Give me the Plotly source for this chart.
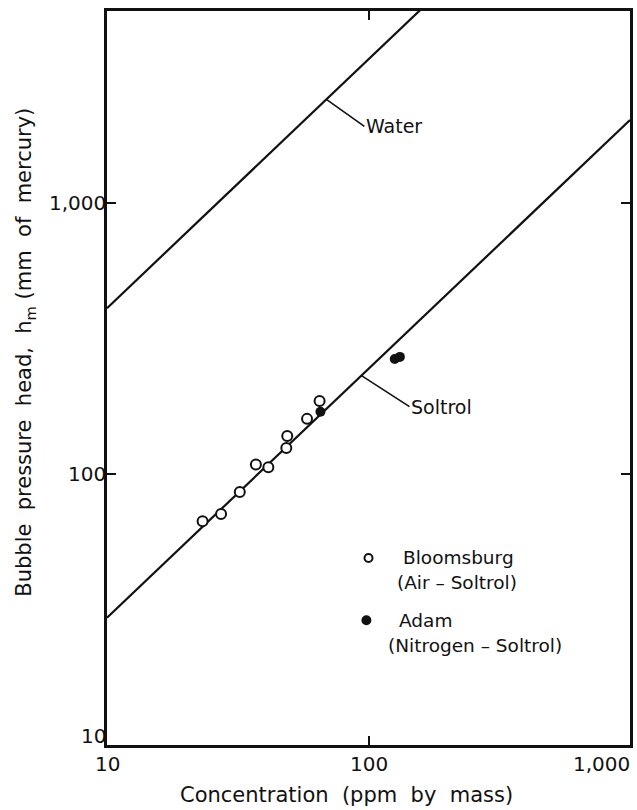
import numpy as np
import plotly.graph_objects as go

# ---- data ----
water_x = [10, 170]
water_y = [410, 5540]
soltrol_x = [10, 1000]
soltrol_y = [29.5, 2030]

bloomsburg_x = [23.2, 27.3, 32.2, 37.1, 41.4, 48.5, 48.9, 58.2, 65.0]
bloomsburg_y = [67.0, 71.3, 86.0, 108.6, 106.1, 124.8, 138.3, 160.0, 186.4]
adam_x = [65.5, 126.0, 131.8]
adam_y = [170.1, 266.0, 271.0]

x_tickvals = [10, 100, 1000]
x_ticktext = ["10", "100", "1,000"]
y_tickvals = [10, 100, 1000]
y_ticktext = ["10", "100", "1,000"]

FONT = "DejaVu Sans"
BLACK = "#111111"

def on_line(xs, ys, x):
    lx = np.log10(xs); ly = np.log10(ys)
    return 10 ** np.interp(np.log10(x), lx, ly)

fig = go.Figure()
fig.add_trace(go.Scatter(x=water_x, y=water_y, mode="lines",
                         line=dict(color=BLACK, width=2.2), showlegend=False))
fig.add_trace(go.Scatter(x=soltrol_x, y=soltrol_y, mode="lines",
                         line=dict(color=BLACK, width=2.2), showlegend=False))
fig.add_trace(go.Scatter(x=bloomsburg_x, y=bloomsburg_y, mode="markers",
                         marker=dict(symbol="circle", size=10, color="white",
                                     line=dict(color=BLACK, width=2)),
                         showlegend=False))
fig.add_trace(go.Scatter(x=adam_x, y=adam_y, mode="markers",
                         marker=dict(symbol="circle", size=10, color=BLACK,
                                     line=dict(color=BLACK, width=0)),
                         showlegend=False))

annotations = []
# x tick labels
for v, t in zip(x_tickvals, x_ticktext):
    annotations.append(dict(x=np.log10(v), y=0, xref="x", yref="paper",
                            text=t, showarrow=False, yanchor="top",
                            xanchor="right" if v == 1000 else "center",
                            xshift=2 if v == 1000 else 0,
                            yshift=-5, font=dict(family=FONT, size=20, color=BLACK)))
# y tick labels
for v, t in zip(y_tickvals, y_ticktext):
    annotations.append(dict(x=0, y=np.log10(v), xref="paper", yref="y",
                            text=t, showarrow=False, xanchor="right",
                            yanchor="bottom" if v == 10 else "middle",
                            xshift=1, yshift=-5 if v == 10 else 0,
                            font=dict(family=FONT, size=20, color=BLACK)))
# line labels with pointers
wx = 69
annotations.append(dict(x=np.log10(wx), y=np.log10(on_line(water_x, water_y, wx)),
                        xref="x", yref="y", text="Water", showarrow=True,
                        arrowhead=0, arrowwidth=1.6, arrowcolor=BLACK,
                        ax=38, ay=27, xanchor="left",
                        font=dict(family=FONT, size=19, color=BLACK)))
sx = 94
annotations.append(dict(x=np.log10(sx), y=np.log10(on_line(soltrol_x, soltrol_y, sx)),
                        xref="x", yref="y", text="Soltrol", showarrow=True,
                        arrowhead=0, arrowwidth=1.6, arrowcolor=BLACK,
                        ax=48, ay=31, xanchor="left",
                        font=dict(family=FONT, size=19, color=BLACK)))
# legend text
for text, px, py in [("Bloomsburg", 0.563, 0.2548), ("(Air – Soltrol)", 0.551, 0.222),
                     ("Adam", 0.555, 0.170), ("(Nitrogen – Soltrol)", 0.534, 0.136)]:
    annotations.append(dict(x=px, y=py, xref="paper", yref="paper", text=text,
                            showarrow=False, xanchor="left", yanchor="middle",
                            font=dict(family=FONT, size=18.5, color=BLACK)))
# axis titles
annotations.append(dict(x=-0.156, y=0.535, xref="paper", yref="paper",
                        text="Bubble  pressure  head,  h<sub>m</sub> (mm  of  mercury)",
                        textangle=-90, showarrow=False, xanchor="center", yanchor="middle",
                        font=dict(family=FONT, size=21, color=BLACK)))
annotations.append(dict(x=0.458, y=-0.068, xref="paper", yref="paper",
                        text="Concentration  (ppm  by  mass)", showarrow=False,
                        xanchor="center", yanchor="middle",
                        font=dict(family=FONT, size=21, color=BLACK)))

shapes = [
    dict(type="circle", xref="paper", yref="paper", xsizemode="pixel", ysizemode="pixel",
         xanchor=0.5, yanchor=0.2548, x0=-4, x1=4, y0=-4, y1=4,
         line=dict(color=BLACK, width=2), fillcolor="white"),
    dict(type="circle", xref="paper", yref="paper", xsizemode="pixel", ysizemode="pixel",
         xanchor=0.496, yanchor=0.170, x0=-5, x1=5, y0=-5, y1=5,
         line=dict(color=BLACK, width=0), fillcolor=BLACK),
]

fig.update_layout(
    width=637, height=810,
    margin=dict(l=107, r=4, t=11, b=65),
    paper_bgcolor="white", plot_bgcolor="white",
    showlegend=False,
    annotations=annotations, shapes=shapes,
    font=dict(family=FONT, color=BLACK),
)
fig.update_xaxes(type="log", range=[1, 3], showgrid=False, zeroline=False,
                 showline=True, linecolor=BLACK, linewidth=2.5, mirror="ticks",
                 ticks="inside", ticklen=9, tickwidth=2, tickcolor=BLACK,
                 tickvals=x_tickvals, showticklabels=False)
fig.update_yaxes(type="log", range=[1, 3.71], showgrid=False, zeroline=False,
                 showline=True, linecolor=BLACK, linewidth=2.5, mirror="ticks",
                 ticks="inside", ticklen=9, tickwidth=2, tickcolor=BLACK,
                 tickvals=y_tickvals, showticklabels=False)

fig.write_html("out.html")
